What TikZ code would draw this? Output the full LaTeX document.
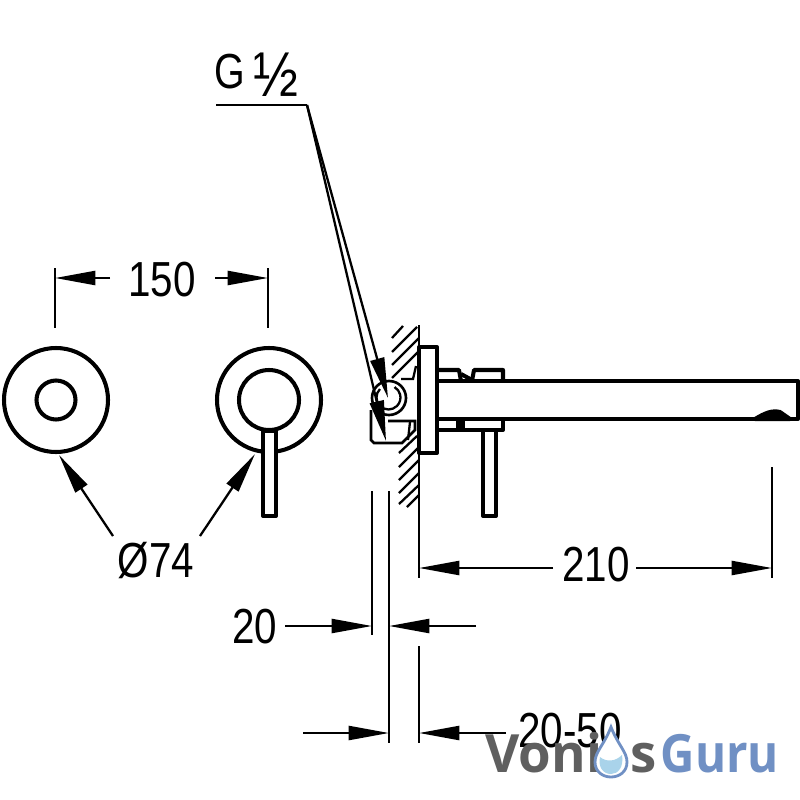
\documentclass[tikz,border=0pt]{standalone}
\usepackage{fontspec}
\setmainfont{Liberation Sans}
\newfontfamily\brandfont{Open Sans}
\usetikzlibrary{arrows.meta}
\definecolor{brandgray}{HTML}{5F5F5F}
\definecolor{brandblue}{HTML}{7090C4}
\definecolor{dropblue}{HTML}{A9D3EA}

\begin{document}
\begin{tikzpicture}[x=0.01cm,y=-0.01cm]
            \tikzset{dim/.style = {line width=0.65pt, -{Triangle[length=11.5pt,width=4pt]}}}
            \tikzset{ext/.style = {line width=0.65pt}}
            \tikzset{part/.style = {line width=1.15pt, line join=round}}
            \tikzset{label/.style = {inner sep=0pt, font=\fontsize{14}{14}\selectfont, xscale=0.82}}
            \tikzset{brand/.style = {inner sep=0pt, anchor=base west, font=\brandfont\bfseries\fontsize{15}{15}\selectfont}}
            \useasboundingbox (0,0) rectangle (800,800);
            % front views
            \draw[part] (56,400) circle (52);
            \draw[part] (56,400) circle (19.5);
            \draw[part] (269,400) circle (52);
            \draw[part] (269,400) circle (30);
            \draw[part,fill=white] (263,431) rectangle (276,516);
            % hatching
            \foreach \x/\y/\u/\v in {392/338/403/326, 392/352/417/327, 392/365/419/338, 392/378/419/351, 399/453/417/436, 399/467/419/447, 399/480/419/460, 399/493/419/473, 399/504/419/485, 407/507/419/495}
              \draw[ext] (\x,\y) -- (\u,\v);
            % wall mounted side view
            \draw[ext] (419,325) -- (419,578);
            \draw[part,fill=white] (419,347) rectangle (437,453);
            \draw[part] (437,381) -- (798,381) -- (798,419) -- (437,419);
            \draw[part,fill=black] (755,419) .. controls (765,413) and (772,410) .. (780,412) -- (790,419) -- cycle;
            \draw[part] (437,370) -- (459,370) -- (461,381);
            \draw[part] (461,374) -- (472,380);
            \draw[part] (472,381) -- (474,370) -- (503,370) -- (503,381);
            \draw[part] (437,419) -- (503,419) -- (503,430) -- (437,430);
            \draw[part,fill=black] (458,419) rectangle (463,430);
            \draw[part,fill=white] (483,430) rectangle (496,516);
            % valve
            \draw[ext] (401,379) -- (413,379) -- (416,366);
            \draw[line width=0.75pt] (389,398) circle (17);
            \draw[ext] (380,389) arc (225:-60:12);
            \draw[line width=0.75pt] (371,410) -- (371,440) -- (374,443) -- (402,443) -- (415,430) -- (415,421) -- (388,421);
            \draw[ext] (410,422) -- (408,440);
            % G 1/2 leader
            \node[inner sep=0pt, xscale=0.8, font=\fontsize{14}{14}\selectfont] (gsize) at (230,72) {G};
            \node[inner sep=0pt, xscale=0.85, font=\fontsize{18}{18}\selectfont] (half) at (276,75) {½};
            \coordinate (corner) at (307,105);
            \coordinate (tipa) at (388,398);
            \coordinate (tipb) at (386,441);
            \draw[ext] (216,105) -- (corner);
            \draw[dim] (corner) -- (tipa);
            \draw[dim] (corner) -- (tipb);
            % 150
            \draw[ext] (55,268) -- (55,328);
            \draw[ext] (268,268) -- (268,328);
            \node[label] (width) at (162,280) {150};
            \draw[dim] (110,278) -- (55,278);
            \draw[dim] (215,278) -- (268,278);
            % diameter
            \node[label] (diam) at (156,561) {Ø74};
            \draw[dim] (113,536) -- (59,455);
            \draw[dim] (200,536) -- (255,454);
            % 210
            \draw[ext] (772,467) -- (772,578);
            \node[label] (reach) at (596,565) {210};
            \draw[dim] (553,568) -- (419,568);
            \draw[dim] (636,568) -- (772,568);
            % 20
            \draw[ext] (372,491) -- (372,635);
            \draw[ext] (389,491) -- (389,743);
            \node[label] (gap) at (255,627) {20};
            \draw[dim] (285,626) -- (372,626);
            \draw[dim] (476,626) -- (389,626);
            % 20-50
            \draw[ext] (419,646) -- (419,743);
            \node[label] (range) at (570,731) {20-50};
            \draw[dim] (303,733) -- (389,733);
            \draw[dim] (506,733) -- (419,733);
            % watermark
            \node[brand, text=brandgray] (voni) at (485,772) {Voni};
            \node[brand, text=brandgray] (brands) at (630,772) {s};
            \node[brand, text=brandblue, xscale=0.9] (guru) at (660,772) {Guru};
            \draw[brandblue, line width=0.8pt, fill=white] (611,727) .. controls (618,745) and (627,752) .. (627,762) .. controls (627,782) and (595,782) .. (595,762) .. controls (595,752) and (604,745) .. (611,727) -- cycle;
            \fill[dropblue] (600,757) .. controls (606,762) and (615,762) .. (622,755) .. controls (624,767) and (618,774) .. (611,774) .. controls (603,774) and (598,767) .. (600,757) -- cycle;
        \end{tikzpicture}
\end{document}
